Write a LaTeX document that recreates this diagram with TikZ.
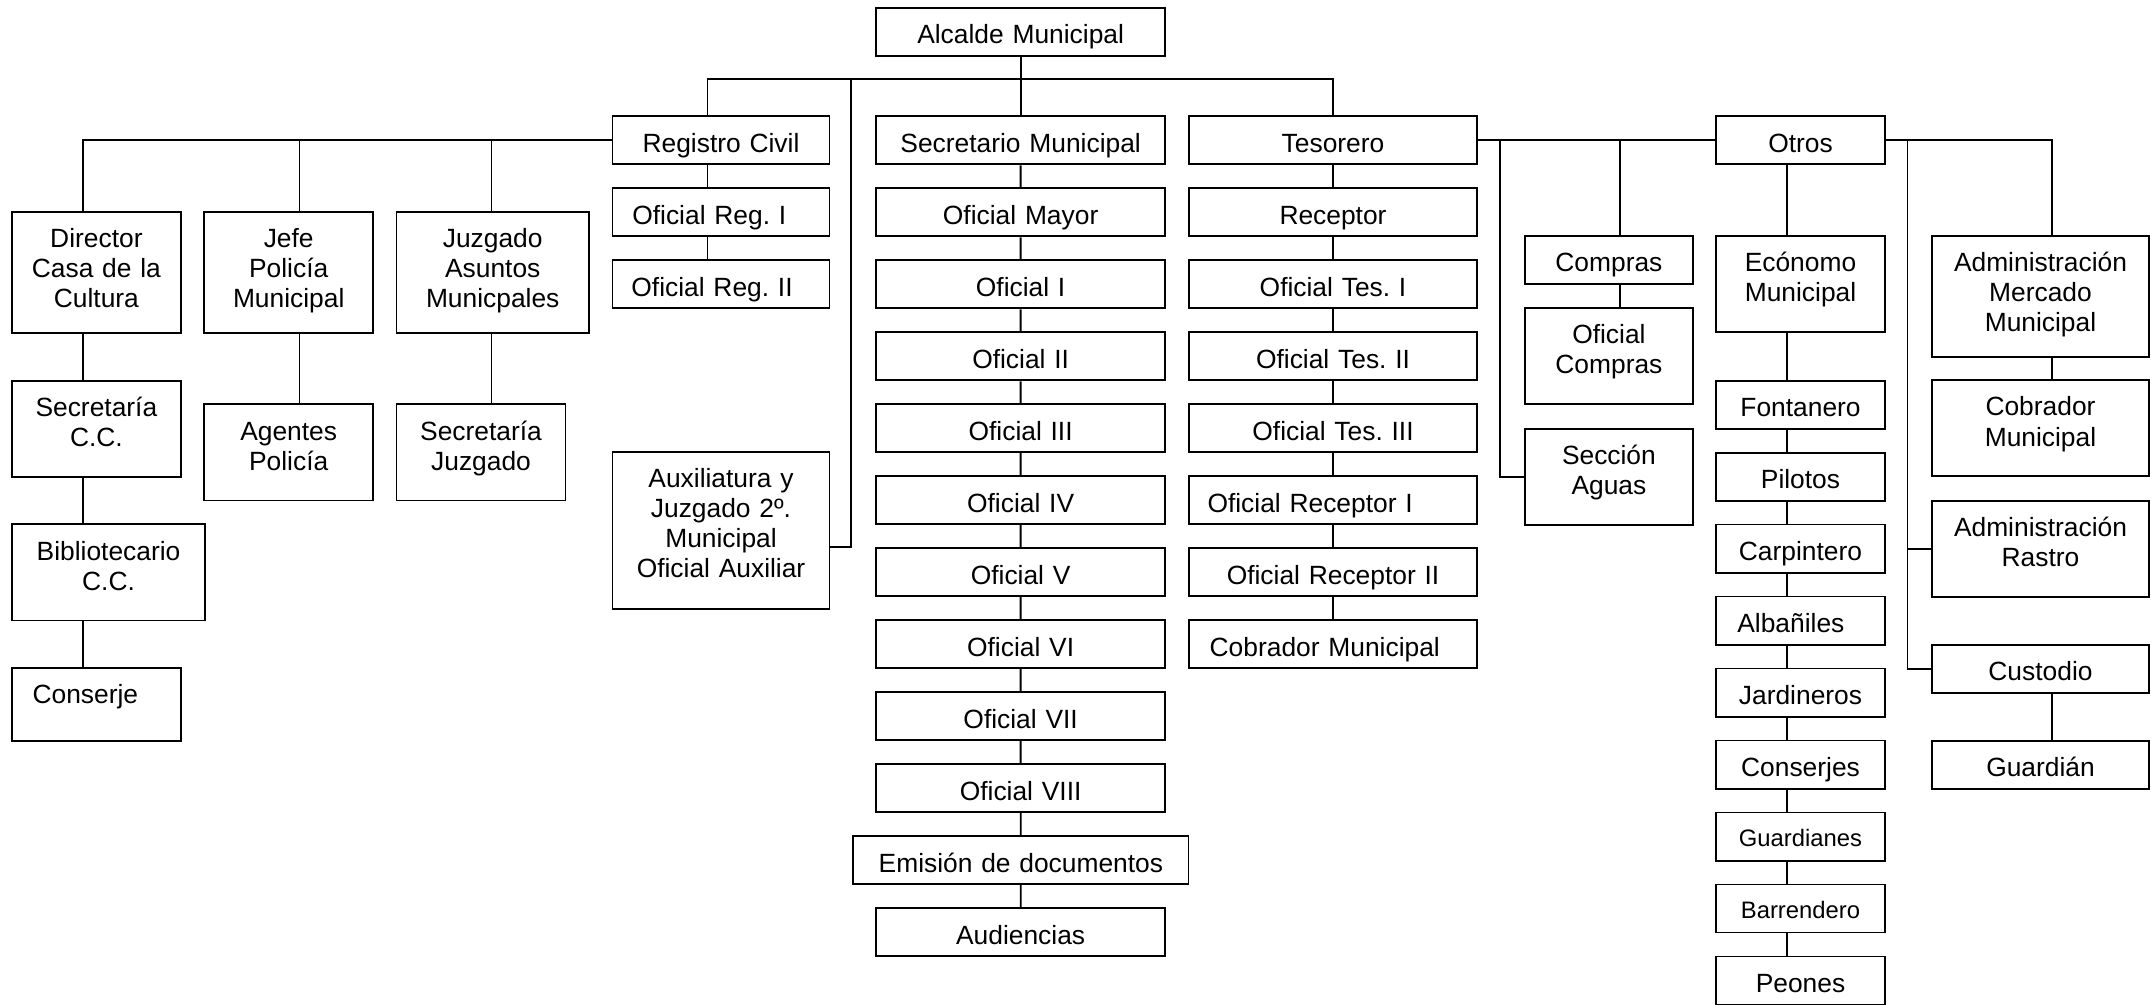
\documentclass[tikz,border=0pt]{standalone}
\usepackage{fontspec}
\setmainfont{Liberation Sans}
\usetikzlibrary{calc}
\frenchspacing

\newcommand{\cargofont}{\fontsize{14.4}{16.4}\selectfont}
\newcommand{\chicofont}{\fontsize{13}{15}\selectfont}

\tikzset{
  cargo/.style={draw, line width=1pt, anchor=north west, inner sep=0pt, align=center,
    text height=19.6pt, text depth=6.65pt, font=\cargofont},
  ancho/.style={cargo, text width=157.5pt},
  medio/.style={cargo, text width=118.5pt},
  corto/.style={cargo, text width=92.25pt},
  dos/.style={text depth=33pt},
  tres/.style={text depth=46.5pt},
  chico/.style={font=\chicofont, text height=18.4pt, text depth=7.85pt},
  enlace/.style={line width=1pt},
}

\begin{document}
\begin{tikzpicture}[x=0.75pt,y=0.75pt,yscale=-1,xscale=1]
\useasboundingbox (0,0) rectangle (1568,731);

% ejes de los conectores
\coordinate (bus) at (742.3,57.5);
\coordinate (ejeDir) at (60.7,0);
\coordinate (ejeJefe) at (218,0);
\coordinate (ejeJuz) at (357.8,0);
\coordinate (ejeReg) at (515,0);
\coordinate (codoAux) at (619.7,398);
\coordinate (ejeAgua) at (1092,0);
\coordinate (ejeCompras) at (1179.3,0);
\coordinate (ejeOtros) at (1301,0);
\coordinate (ejeMerc) at (1388.6,0);
\coordinate (ejeAdm) at (1493.5,0);

% Text Node
\node[ancho] (alcalde) at (637.3,4.9) {Alcalde Municipal};

% Text Node: segundo nivel
\node[medio] (registro) at (445.2,84) {Registro Civil};
\node[ancho] (secmun) at (637.3,84) {Secretario Municipal};
\node[ancho] (tesorero) at (864.7,84) {Tesorero};
\node[corto] (otros) at (1248.5,84) {Otros};

% Text Node: registro civil
\node[medio] (ofreg1) at (445.2,136.4) {\hbox{Oficial Reg. I\kern12.8pt}};
\node[medio] (ofreg2) at (445.2,188.8) {\hbox{Oficial Reg. II\kern9.8pt}};
\node[medio, text depth=66pt] (auxil) at (445.2,328.3) {Auxiliatura y\\Juzgado 2º.\\Municipal\\Oficial Auxiliar};

% Text Node: izquierda
\node[corto, tres] (director) at (8,153.4) {Director\\Casa de la\\Cultura};
\node[corto, tres] (jefe) at (148,153.4) {Jefe\\Policía\\Municipal};
\node[corto, tres, text width=105pt] (juzgado) at (288,153.4) {Juzgado\\Asuntos\\Municpales};
\node[corto, dos] (secretcc) at (8,276.6) {Secretaría\\C.C.};
\node[corto, dos] (agentes) at (148,293.5) {Agentes\\Policía};
\node[corto, dos] (secretjuz) at (288,293.5) {Secretaría\\Juzgado};
\node[corto, dos, text width=105.5pt] (biblio) at (8,380.9) {Bibliotecario\\C.C.};
\node[corto, text depth=20.2pt] (conserje) at (8,485.6) {\hbox{Conserje\kern12pt}};

% Text Node: secretario municipal
\node[ancho] (ofmayor) at (637.3,136.4) {Oficial Mayor};
\node[ancho] (of1) at (637.3,188.8) {Oficial I};
\node[ancho] (of2) at (637.3,241.2) {Oficial II};
\node[ancho] (of3) at (637.3,293.6) {Oficial III};
\node[ancho] (of4) at (637.3,346) {Oficial IV};
\node[ancho] (of5) at (637.3,398.4) {Oficial V};
\node[ancho] (of6) at (637.3,450.8) {Oficial VI};
\node[ancho] (of7) at (637.3,503.2) {Oficial VII};
\node[ancho] (of8) at (637.3,555.6) {Oficial VIII};
\node[ancho, text width=183pt] (emision) at (620.5,608) {Emisión de documentos};
\node[ancho] (audiencias) at (637.3,660.4) {Audiencias};

% Text Node: tesorero
\node[ancho] (receptor) at (864.7,136.4) {Receptor};
\node[ancho] (oftes1) at (864.7,188.8) {Oficial Tes. I};
\node[ancho] (oftes2) at (864.7,241.2) {Oficial Tes. II};
\node[ancho] (oftes3) at (864.7,293.6) {Oficial Tes. III};
\node[ancho] (ofrec1) at (864.7,346) {\hbox{Oficial Receptor I\kern25pt}};
\node[ancho] (ofrec2) at (864.7,398.4) {Oficial Receptor II};
\node[ancho] (cobtes) at (864.7,450.8) {\hbox{Cobrador Municipal\kern9pt}};

% Text Node: compras y aguas
\node[corto, text width=91.7pt] (compras) at (1109.4,171) {Compras};
\node[corto, dos, text width=91.7pt] (ofcompras) at (1109.4,223.3) {Oficial\\Compras};
\node[corto, dos, text width=91.7pt] (aguas) at (1109.4,311.4) {Sección\\Aguas};

% Text Node: otros
\node[corto, dos] (economo) at (1248.5,171) {Ecónomo\\Municipal};
\node[corto] (fontanero) at (1248.5,276.4) {Fontanero};
\node[corto] (pilotos) at (1248.5,328.8) {Pilotos};
\node[corto] (carpintero) at (1248.5,381.2) {Carpintero};
\node[corto] (albaniles) at (1248.5,433.6) {\hbox{Albañiles\kern10.5pt}};
\node[corto] (jardineros) at (1248.5,486) {Jardineros};
\node[corto] (conserjes) at (1248.5,538.4) {Conserjes};
\node[corto, chico] (guardianes) at (1248.5,590.8) {Guardianes};
\node[corto, chico] (barrendero) at (1248.5,643.2) {Barrendero};
\node[corto] (peones) at (1248.5,695.6) {Peones};

% Text Node: mercado, rastro
\node[medio, tres] (admmerc) at (1405.7,171) {Administración\\Mercado\\Municipal};
\node[medio, dos] (cobmerc) at (1405.7,276) {Cobrador\\Municipal};
\node[medio, dos] (rastro) at (1405.7,364) {Administración\\Rastro};
\node[medio] (custodio) at (1405.7,468.6) {Custodio};
\node[medio] (guardian) at (1405.7,538.5) {Guardián};

% Conectores: alcalde
\draw[enlace] (alcalde) -- (secmun);
\draw[enlace] (registro.north -| ejeReg) |- (bus) -| (tesorero.north);
\draw[enlace] (bus -| codoAux) -- (codoAux) -- (codoAux -| auxil.east);

% Conectores: izquierda
\draw[enlace] (registro.west) -| (director.north -| ejeDir);
\draw[enlace] (registro.west -| ejeJefe) -- (jefe.north -| ejeJefe);
\draw[enlace] (registro.west -| ejeJuz) -- (juzgado.north -| ejeJuz);
\draw[enlace] (director.south -| ejeDir) -- (secretcc.north -| ejeDir);
\draw[enlace] (secretcc.south -| ejeDir) -- (biblio.north -| ejeDir);
\draw[enlace] (biblio.south -| ejeDir) -- (conserje.north -| ejeDir);
\draw[enlace] (jefe.south -| ejeJefe) -- (agentes.north -| ejeJefe);
\draw[enlace] (juzgado.south -| ejeJuz) -- (secretjuz.north -| ejeJuz);
\draw[enlace] (registro.south -| ejeReg) -- (ofreg1.north -| ejeReg);
\draw[enlace] (ofreg1.south -| ejeReg) -- (ofreg2.north -| ejeReg);

% Conectores: columnas centrales
\draw[enlace] (secmun) -- (ofmayor) -- (of1) -- (of2) -- (of3) -- (of4) -- (of5) -- (of6) -- (of7) -- (of8) -- (emision) -- (audiencias);
\draw[enlace] (tesorero) -- (receptor) -- (oftes1) -- (oftes2) -- (oftes3) -- (ofrec1) -- (ofrec2) -- (cobtes);

% Conectores: derecha
\draw[enlace] (tesorero.east) -- (otros.west);
\draw[enlace] (tesorero.east -| ejeAgua) |- (aguas.west);
\draw[enlace] (tesorero.east -| ejeCompras) -- (compras.north -| ejeCompras);
\draw[enlace] (compras.south -| ejeCompras) -- (ofcompras.north -| ejeCompras);
\draw[enlace] (otros.south -| ejeOtros) -- (economo.north -| ejeOtros);
\draw[enlace] (economo.south -| ejeOtros) -- (fontanero.north -| ejeOtros);
\draw[enlace] (fontanero.south -| ejeOtros) -- (pilotos.north -| ejeOtros);
\draw[enlace] (pilotos.south -| ejeOtros) -- (carpintero.north -| ejeOtros);
\draw[enlace] (carpintero.south -| ejeOtros) -- (albaniles.north -| ejeOtros);
\draw[enlace] (albaniles.south -| ejeOtros) -- (jardineros.north -| ejeOtros);
\draw[enlace] (jardineros.south -| ejeOtros) -- (conserjes.north -| ejeOtros);
\draw[enlace] (conserjes.south -| ejeOtros) -- (guardianes.north -| ejeOtros);
\draw[enlace] (guardianes.south -| ejeOtros) -- (barrendero.north -| ejeOtros);
\draw[enlace] (barrendero.south -| ejeOtros) -- (peones.north -| ejeOtros);
\draw[enlace] (otros.east) -| (admmerc.north -| ejeAdm);
\draw[enlace] (otros.east -| ejeMerc) |- (custodio.west);
\draw[enlace] (rastro.west -| ejeMerc) -- (rastro.west);
\draw[enlace] (admmerc.south -| ejeAdm) -- (cobmerc.north -| ejeAdm);
\draw[enlace] (custodio.south -| ejeAdm) -- (guardian.north -| ejeAdm);
\end{tikzpicture}
\end{document}
